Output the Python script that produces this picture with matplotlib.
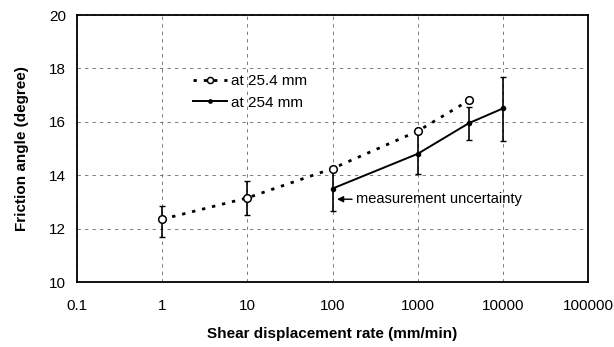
import matplotlib
matplotlib.use("Agg")
import matplotlib.pyplot as plt
import numpy as np

plt.rcParams['font.family'] = ['Liberation Sans', 'DejaVu Sans']

# data
x_small = [1, 10, 100, 1000, 4000]
y_small = [12.35, 13.15, 14.25, 15.65, 16.8]
x_big = [100, 1000, 4000, 10000]
y_big = [13.5, 14.8, 15.95, 16.5]

# error bars (lower, upper)
xe_small = [1, 10]
ye_small = [12.35, 13.15]
lo_small = [11.68, 12.5]
hi_small = [12.86, 13.78]
xe_big = [100, 1000, 4000, 10000]
ye_big = [13.5, 14.8, 15.95, 16.5]
lo_big = [12.66, 14.04, 15.32, 15.28]
hi_big = [14.27, 15.69, 16.55, 17.68]

xticks = [0.1, 1, 10, 100, 1000, 10000, 100000]
xticklabels = ['0.1', '1', '10', '100', '1000', '10000', '100000']
yticks = [10, 12, 14, 16, 18, 20]

fig = plt.figure(figsize=(6.14, 3.47), dpi=100)
ax = fig.add_axes([77/614, 1-282/347, (588-77)/614, (282-15)/347])

ax.set_xscale('log')
ax.set_xlim(0.1, 100000)
ax.set_ylim(10, 20)

ax.grid(True, which='major', color='#666666', linestyle=(0, (4, 5)), linewidth=0.6)
ax.set_axisbelow(True)

ax.errorbar(xe_small, ye_small,
            yerr=[np.array(ye_small)-np.array(lo_small), np.array(hi_small)-np.array(ye_small)],
            fmt='none', ecolor='black', elinewidth=1.2, capsize=2.5, capthick=1.0, zorder=3)
ax.errorbar(xe_big, ye_big,
            yerr=[np.array(ye_big)-np.array(lo_big), np.array(hi_big)-np.array(ye_big)],
            fmt='none', ecolor='black', elinewidth=1.2, capsize=2.5, capthick=1.0, zorder=3)

ax.plot(x_small, y_small, linestyle=(0, (1.2, 2.5)), color='black', linewidth=2.0,
        marker='o', markersize=5.5, markerfacecolor='white', markeredgecolor='black',
        markeredgewidth=1.1, label='at 25.4 mm', zorder=4)
ax.plot(x_big, y_big, linestyle='-', color='black', linewidth=1.4,
        marker='o', markersize=3, markerfacecolor='black', markeredgecolor='black',
        label='at 254 mm', zorder=4)

ax.annotate('measurement uncertainty', xy=(113, 13.1), xytext=(190, 13.1),
            fontsize=10.5, va='center', ha='left',
            arrowprops=dict(arrowstyle='-|>', color='black', lw=1.0, mutation_scale=9,
                            shrinkA=1, shrinkB=0))

ax.set_xticks(xticks)
ax.set_xticklabels(xticklabels)
ax.xaxis.set_minor_locator(matplotlib.ticker.NullLocator())
ax.set_yticks(yticks)
ax.tick_params(axis='both', which='major', labelsize=11, length=0, pad=12)
ax.tick_params(axis='y', pad=8)

for sp in ax.spines.values():
    sp.set_linewidth(1.3)
    sp.set_color('black')

ax.set_xlabel('Shear displacement rate (mm/min)', fontsize=11, fontweight='bold', labelpad=10)
ax.set_ylabel('Friction angle (degree)', fontsize=11, fontweight='bold', labelpad=14)

leg = ax.legend(loc='upper left', bbox_to_anchor=(0.2, 0.83), frameon=False,
                fontsize=11, handlelength=2.2, handletextpad=0.3, labelspacing=0.5,
                markerscale=0.8)

fig.savefig('out.png', dpi=100)
